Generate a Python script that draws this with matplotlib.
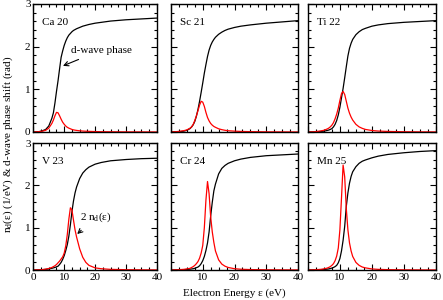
import matplotlib
matplotlib.use("Agg")
import matplotlib.pyplot as plt
from matplotlib.ticker import MultipleLocator

plt.rcParams['font.family'] = ['Liberation Serif', 'DejaVu Serif']
plt.rcParams['mathtext.fontset'] = 'custom'
plt.rcParams['mathtext.rm'] = 'Liberation Serif'
plt.rcParams['mathtext.it'] = 'Liberation Serif:italic'

# electron energy grid (eV)
energy = [0, 2, 3, 4, 5, 6, 6.5, 7, 7.5, 8, 8.5, 9, 9.5, 10, 10.5, 11, 11.5, 12,
          12.5, 13, 13.5, 14, 15, 16, 17, 18, 20, 22, 25, 30, 35, 40]

labels = ["Ca 20", "Sc 21", "Ti 22", "V 23", "Cr 24", "Mn 25"]

# d-wave phase shift (rad)
phase_ca = [0, 0.01, 0.03, 0.06, 0.14, 0.32, 0.45, 0.68, 0.95, 1.2, 1.48, 1.75, 1.9, 2.03, 2.13, 2.21,
            2.27, 2.31, 2.35, 2.38, 2.4, 2.42, 2.45, 2.48, 2.5, 2.52, 2.55, 2.57, 2.6, 2.63, 2.65, 2.67]
phase_sc = [0, 0.005, 0.01, 0.02, 0.04, 0.08, 0.12, 0.17, 0.25, 0.37, 0.53, 0.72, 0.93, 1.15, 1.38, 1.58,
            1.77, 1.92, 2.03, 2.11, 2.17, 2.22, 2.29, 2.34, 2.38, 2.41, 2.45, 2.48, 2.51, 2.55, 2.58, 2.61]
phase_ti = [0, 0.003, 0.006, 0.012, 0.02, 0.035, 0.045, 0.06, 0.08, 0.12, 0.18, 0.27, 0.4, 0.58, 0.8, 1.02,
            1.27, 1.53, 1.78, 1.96, 2.08, 2.17, 2.28, 2.35, 2.4, 2.43, 2.48, 2.51, 2.54, 2.57, 2.59, 2.61]
phase_v = [0, 0.003, 0.008, 0.015, 0.025, 0.04, 0.05, 0.06, 0.075, 0.09, 0.13, 0.18, 0.25, 0.34, 0.46, 0.6,
           0.8, 1.07, 1.38, 1.63, 1.82, 1.96, 2.16, 2.29, 2.37, 2.43, 2.5, 2.54, 2.58, 2.61, 2.63, 2.64]
phase_cr = [0, 0.002, 0.004, 0.008, 0.013, 0.02, 0.025, 0.03, 0.04, 0.055, 0.07, 0.1, 0.15, 0.22, 0.32, 0.46,
            0.64, 0.9, 1.28, 1.6, 1.87, 2.03, 2.27, 2.4, 2.47, 2.52, 2.58, 2.62, 2.66, 2.7, 2.72, 2.74]
phase_mn = [0, 0.002, 0.004, 0.008, 0.013, 0.02, 0.025, 0.035, 0.045, 0.06, 0.08, 0.11, 0.17, 0.27, 0.45, 0.7,
            1.03, 1.5, 1.82, 2.05, 2.21, 2.32, 2.44, 2.52, 2.57, 2.6, 2.65, 2.69, 2.73, 2.77, 2.8, 2.82]

# 2 n_d(e) (1/eV)
dos_ca = [0, 0.01, 0.02, 0.04, 0.09, 0.2, 0.28, 0.38, 0.46, 0.45, 0.38, 0.3, 0.23, 0.18, 0.14, 0.11,
          0.09, 0.075, 0.06, 0.05, 0.043, 0.037, 0.028, 0.022, 0.018, 0.015, 0.01, 0.007, 0.005, 0.003, 0.002, 0.001]
dos_sc = [0, 0.01, 0.02, 0.03, 0.05, 0.09, 0.12, 0.18, 0.27, 0.38, 0.5, 0.63, 0.72, 0.7, 0.6, 0.46,
          0.34, 0.26, 0.2, 0.16, 0.13, 0.11, 0.075, 0.055, 0.04, 0.03, 0.02, 0.013, 0.008, 0.004, 0.002, 0.001]
dos_ti = [0, 0.005, 0.015, 0.025, 0.04, 0.07, 0.09, 0.12, 0.16, 0.22, 0.31, 0.42, 0.56, 0.74, 0.9, 0.95,
          0.88, 0.72, 0.56, 0.44, 0.35, 0.28, 0.18, 0.12, 0.085, 0.06, 0.035, 0.022, 0.013, 0.006, 0.003, 0.002]
dos_v = [0, 0.005, 0.01, 0.02, 0.035, 0.06, 0.08, 0.1, 0.13, 0.17, 0.21, 0.26, 0.31, 0.4, 0.57, 0.84,
         1.2, 1.47, 1.42, 1.18, 0.95, 0.78, 0.5, 0.3, 0.18, 0.11, 0.05, 0.03, 0.015, 0.007, 0.004, 0.002]
dos_cr = [0, 0.005, 0.01, 0.015, 0.025, 0.04, 0.06, 0.08, 0.11, 0.15, 0.2, 0.28, 0.4, 0.58, 1.0, 1.65,
          2.09, 1.8, 1.25, 0.9, 0.65, 0.45, 0.24, 0.14, 0.09, 0.06, 0.03, 0.018, 0.01, 0.005, 0.003, 0.002]
dos_mn = [0, 0.005, 0.01, 0.015, 0.025, 0.045, 0.06, 0.08, 0.11, 0.15, 0.22, 0.33, 0.52, 0.95, 1.7, 2.48,
          2.2, 1.45, 0.95, 0.64, 0.45, 0.32, 0.18, 0.11, 0.07, 0.05, 0.025, 0.015, 0.008, 0.004, 0.002, 0.001]

phases = [phase_ca, phase_sc, phase_ti, phase_v, phase_cr, phase_mn]
dos = [dos_ca, dos_sc, dos_ti, dos_v, dos_cr, dos_mn]

fig = plt.figure(figsize=(4.43, 3.0), dpi=100)

lefts = [0.0752, 0.386, 0.695]
widths = [0.279, 0.2867, 0.289]
bottoms = [0.56, 0.1]
heights = [0.4267, 0.4233]

for i in range(6):
    row, col = i // 3, i % 3
    ax = fig.add_axes([lefts[col], bottoms[row], widths[col], heights[row]])
    ax.plot(energy, phases[i], color="black", lw=0.9)
    ax.plot(energy, dos[i], color="red", lw=0.9)
    ax.set_xlim(0, 40)
    ax.set_ylim(0, 3)
    ax.xaxis.set_major_locator(MultipleLocator(10))
    ax.xaxis.set_minor_locator(MultipleLocator(2.5))
    ax.yaxis.set_major_locator(MultipleLocator(1))
    ax.yaxis.set_minor_locator(MultipleLocator(0.2))
    ax.tick_params(which="both", direction="in", top=True, right=True, labelsize=8, pad=2)
    ax.tick_params(which="major", length=4, width=0.8)
    ax.tick_params(which="minor", length=2.2, width=0.8)
    for s in ax.spines.values():
        s.set_linewidth(1.0)
    if row == 0:
        ax.set_xticklabels([])
    elif col > 0:
        ax.set_xticks([10, 20, 30, 40])
        ax.xaxis.set_minor_locator(MultipleLocator(2.5))
    if col > 0:
        ax.set_yticklabels([])
    ax.text(0.068, 0.855, labels[i], transform=ax.transAxes, fontsize=8, va="center")
    if i == 0:
        ax.annotate("d-wave phase", xy=(9.6, 1.55), xytext=(12.2, 1.92), fontsize=8, va="center",
                    arrowprops=dict(arrowstyle="->", color="black", lw=0.8, shrinkA=4, shrinkB=0))
    if i == 3:
        ax.annotate(r"2 n$_{\rm d}$(ε)", xy=(14.2, 0.85), xytext=(15.1, 1.25), fontsize=8, va="center",
                    arrowprops=dict(arrowstyle="->", color="black", lw=0.8, shrinkA=4, shrinkB=0))

fig.text(0.018, 0.52, "n$_{\\rm d}$(ε) (1/eV) & d-wave phase shift (rad)", rotation=90,
         ha="center", va="center", fontsize=8)
fig.text(0.53, 0.023, "Electron Energy ε (eV)", ha="center", va="center", fontsize=8)

fig.savefig("out.png", dpi=100)
